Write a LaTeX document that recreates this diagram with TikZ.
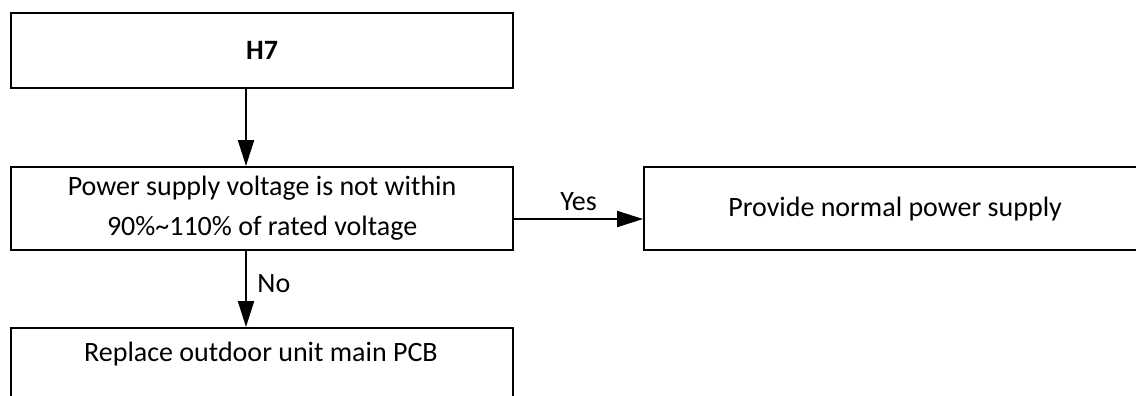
\documentclass[tikz,border=0pt]{standalone}
\usepackage{fontspec}
\setmainfont{Carlito}
\usetikzlibrary{arrows.meta}
\begin{document}
\begin{tikzpicture}[x=1pt,y=-1pt,
  box/.style={draw,line width=2.2pt,inner sep=0pt,anchor=north west,minimum width=502pt},
  conn/.style={line width=2.2pt,-{Triangle[length=26pt,width=16pt]}},
  lbl/.style={font=\fontsize{28}{34}\selectfont}]
\useasboundingbox (0,0) rectangle (1136,396);
\clip (0,0) rectangle (1136,396);
\fill[white] (0,0) rectangle (1136,396);
\node[box,minimum height=75pt,font=\fontsize{28}{34}\selectfont\bfseries] (h7) at (10,12) {H7};
\node[box,minimum height=83pt,align=center,font=\fontsize{28}{40}\selectfont] (chk) at (10,166) {Power supply voltage is not within\\90\%\textasciitilde110\% of rated voltage};
\node[box,minimum height=83pt,lbl] (sup) at (643,166) {Provide normal power supply};
\node[box,minimum height=110pt] (pcb) at (10,327) {};
\node[lbl,anchor=center] (pcbt) at (261,354) {Replace outdoor unit main PCB};
\draw[conn] (h7.south -| 246,0) -- (chk.north -| 246,0);
\draw[conn] (chk.east |- 0,219) -- (sup.west |- 0,219) node[lbl,midway,above=4pt] {Yes};
\draw[conn] (chk.south -| 246,0) -- (pcb.north -| 246,0) node[lbl,pos=0.43,right=7pt] {No};
\end{tikzpicture}
\end{document}
